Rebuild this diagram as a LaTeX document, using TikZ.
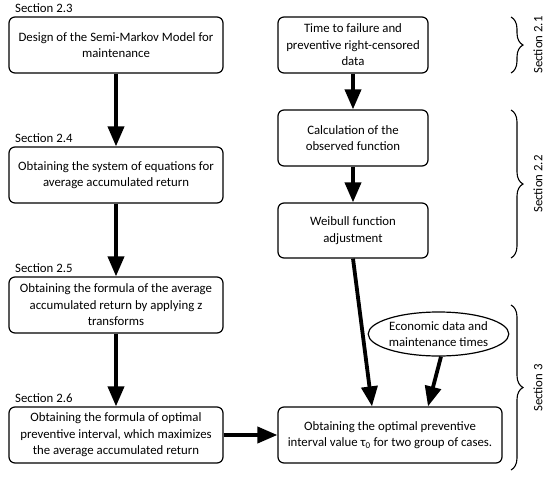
\documentclass[tikz,border=0pt]{standalone}
\usepackage{fontspec}
\setmainfont{Carlito}
\usetikzlibrary{arrows.meta,shapes.geometric,decorations.pathreplacing,calc}
\begin{document}
\begin{tikzpicture}[x=1pt,y=-1pt,
  font=\fontsize{12.8}{16.5}\selectfont,
  box/.style={draw, rounded corners=6pt, line width=1.2pt, align=center, inner sep=0pt},
  ar/.style={line width=3.8pt, -{Triangle[length=20pt,width=16pt]}},
  sec/.style={anchor=west, inner sep=0pt},
  br/.style={decorate, decoration={brace, amplitude=12pt}, line width=1.1pt},
  brl/.style={rotate=90, inner sep=0pt}]
\useasboundingbox (0,0) rectangle (550,477);
\node[box, minimum width=214pt, minimum height=56pt] (A) at (116,45) {Design of the Semi-Markov Model for\\maintenance};
\node[box, minimum width=214pt, minimum height=56pt] (B) at (116,175) {Obtaining the system of equations for\\average accumulated return};
\node[box, minimum width=214pt, minimum height=56pt] (C) at (116,305) {Obtaining the formula of the average\\accumulated return by applying z\\transforms};
\node[box, minimum width=214pt, minimum height=56pt] (D) at (116,435) {Obtaining the formula of optimal\\preventive interval, which maximizes\\the average accumulated return};
\node[sec] (s23) at (15,8) {Section 2.3};
\node[sec] (s24) at (15,138) {Section 2.4};
\node[sec] (s25) at (15,268) {Section 2.5};
\node[sec] (s26) at (15,398) {Section 2.6};
\node[box, minimum width=150pt, minimum height=56pt] (E) at (353,45) {Time to failure and\\preventive right-censored\\data};
\node[box, minimum width=150pt, minimum height=56pt] (F) at (353,138) {Calculation of the\\observed function};
\node[box, minimum width=150pt, minimum height=55pt] (G) at (353,230.5) {Weibull function\\adjustment};
\node[draw, ellipse, line width=1.2pt, minimum width=131pt, minimum height=44pt, inner sep=0pt, align=center] (Eco) at (438.5,334) {Economic data and\\maintenance times};
\node[box, minimum width=224pt, minimum height=56pt] (H) at (390,435) {Obtaining the optimal preventive\\interval value τ\textsubscript{0} for two group of cases.};
\draw[ar] (A) -- (B);
\draw[ar] (B) -- (C);
\draw[ar] (C) -- (D);
\draw[ar] (D) -- (H);
\draw[ar] (E) -- (F);
\draw[ar] (F) -- (G);
\draw[ar] (G.south) -- ([xshift=-18pt]H.north);
\draw[ar] ([xshift=2.5pt]Eco.south) -- ([xshift=38pt]H.north);
\coordinate (b1t) at (511,17);
\coordinate (b1b) at (511,73);
\coordinate (b2t) at (511,110);
\coordinate (b2b) at (511,258);
\coordinate (b3t) at (511,305);
\coordinate (b3b) at (511,470);
\draw[br] (b1t) -- (b1b);
\draw[br] (b2t) -- (b2b);
\draw[br] (b3t) -- (b3b);
\node[brl] (l1) at (538,45) {Section 2.1};
\node[brl] (l2) at (538,184) {Section 2.2};
\node[brl] (l3) at (538,388) {Section 3};
\end{tikzpicture}
\end{document}
